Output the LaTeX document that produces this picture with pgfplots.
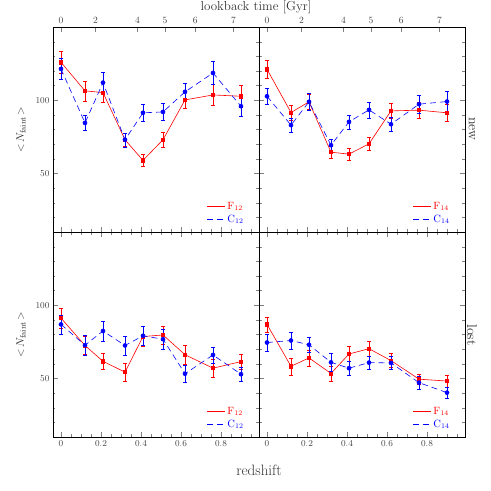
\documentclass[border=0pt]{standalone}
\usepackage{pgfplots}
\usepackage{pgfplotstable}
\pgfplotsset{compat=1.18}

% columns: redshift, F value, F error, C value, C error
\pgfplotstableread{
z    F     eF   C     eC
0    125.9 7.3  121.4 7.0
0.12 106.4 6.8  84.5  5.2
0.21 105.2 6.5  112.0 6.8
0.32 73.0  4.5  73.0  4.8
0.41 58.9  4.0  91.4  6.0
0.51 73.0  5.0  92.0  5.8
0.62 100.2 5.5  105.7 6.0
0.76 103.6 7.0  118.6 8.0
0.90 102.7 7.4  95.9  6.8
}\newleft
\pgfplotstableread{
z    F     eF   C     eC
0    121.1 6.4  102.7 5.5
0.12 91.6  5.0  83.0  4.8
0.21 98.9  5.3  98.9  6.0
0.32 64.5  4.0  69.3  4.0
0.41 63.2  4.0  85.2  4.9
0.51 70.2  4.3  93.4  5.5
0.62 92.7  5.2  83.6  4.8
0.76 93.2  5.5  97.3  6.2
0.90 91.4  5.7  99.1  6.9
}\newright
\pgfplotstableread{
z    F     eF   C     eC
0    91.2  7.0  86.9  6.5
0.12 72.5  6.0  72.7  7.0
0.21 61.7  5.6  82.4  6.9
0.32 54.3  6.4  72.5  6.6
0.41 78.6  6.8  79.1  6.5
0.51 79.7  6.2  76.8  6.5
0.62 66.2  6.3  53.2  5.6
0.76 57.0  5.9  66.0  5.6
0.90 61.5  5.3  52.9  5.0
}\lostleft
\pgfplotstableread{
z    F     eF   C     eC
0    86.9  5.0  74.5  5.6
0.12 58.3  5.8  75.9  5.8
0.21 64.0  5.5  73.0  5.4
0.32 53.4  5.0  61.0  5.9
0.41 66.7  5.2  57.0  5.0
0.51 70.3  5.3  60.8  4.7
0.62 62.2  4.8  60.6  4.5
0.76 49.5  3.6  47.1  4.5
0.90 48.2  4.0  40.3  4.0
}\lostright

\pgfplotsset{
  panel/.style={
    scale only axis, width=206pt, height=205pt,
    anchor=south west,
    xmin=-0.04, xmax=0.99, ymin=10, ymax=150,
    xtick={0,0.2,0.4,0.6,0.8},
    minor xtick={0.05,0.1,0.15,0.25,0.3,0.35,0.45,0.5,0.55,0.65,0.7,0.75,0.85,0.9,0.95},
    ytick={50,100},
    minor ytick={10,20,30,40,60,70,80,90,110,120,130,140},
    tick align=inside,
    major tick length=5pt, minor tick length=2.5pt,
    tick label style={font=\fontsize{9.5}{11}\selectfont, text=black!75},
    legend style={at={(rel axis cs:0.95,0.02)}, anchor=south east,
      draw=none, fill=none, font=\fontsize{10.5}{12}\selectfont},
    legend cell align=left,
    legend image code/.code={\draw[##1] (0pt,0pt) -- (18pt,0pt);},
  },
  lookback/.style={
    scale only axis, width=206pt, height=205pt,
    anchor=south west,
    xmin=-0.04, xmax=0.99, ymin=10, ymax=150,
    axis x line*=top, axis y line=none,
    xtick={0,0.172,0.382,0.52,0.671,0.862},
    xticklabels={0,2,4,5,6,7},
    minor xtick={},
    tick align=inside, major tick length=5pt,
    tick label style={font=\fontsize{9.5}{11}\selectfont, text=black!75},
  },
}

\begin{document}
\begin{tikzpicture}
\useasboundingbox (0,0) rectangle (491pt,491pt);

% top left: new, 12
\begin{axis}[panel, at={(53pt,259pt)}, xtick pos=left, xticklabels={},
  ylabel={$<\!N_{\rm faint}\!>$},
  ylabel style={at={(rel axis cs:-0.155,0.5)}, anchor=center, font=\fontsize{11}{13}\selectfont, text=black!80}]
\addplot[red, line width=0.6pt, mark=square*, mark size=1.6pt, mark options={solid, fill=red},
  error bars/.cd, y dir=both, y explicit, error bar style={red, line width=0.7pt}]
  table[x=z, y=F, y error=eF] {\newleft};
\addlegendentry{\textcolor{red}{F$_{12}$}}
\addplot[blue, line width=0.6pt, dash pattern=on 6pt off 4pt, mark=*, mark size=2pt, mark options={solid, fill=blue},
  error bars/.cd, y dir=both, y explicit, error bar style={blue, solid, line width=0.7pt}]
  table[x=z, y=C, y error=eC] {\newleft};
\addlegendentry{\textcolor{blue}{C$_{12}$}}
\end{axis}
\begin{axis}[lookback, at={(53pt,259pt)}]
\end{axis}

% top right: new, 14
\begin{axis}[panel, at={(259pt,259pt)}, xtick pos=left, xticklabels={}, yticklabels={}]
\addplot[red, line width=0.6pt, mark=square*, mark size=1.6pt, mark options={solid, fill=red},
  error bars/.cd, y dir=both, y explicit, error bar style={red, line width=0.7pt}]
  table[x=z, y=F, y error=eF] {\newright};
\addlegendentry{\textcolor{red}{F$_{14}$}}
\addplot[blue, line width=0.6pt, dash pattern=on 6pt off 4pt, mark=*, mark size=2pt, mark options={solid, fill=blue},
  error bars/.cd, y dir=both, y explicit, error bar style={blue, solid, line width=0.7pt}]
  table[x=z, y=C, y error=eC] {\newright};
\addlegendentry{\textcolor{blue}{C$_{14}$}}
\end{axis}
\begin{axis}[lookback, at={(259pt,259pt)}]
\end{axis}

% bottom left: lost, 12
\begin{axis}[panel, at={(53pt,54pt)},
  ylabel={$<\!N_{\rm faint}\!>$},
  ylabel style={at={(rel axis cs:-0.155,0.5)}, anchor=center, font=\fontsize{11}{13}\selectfont, text=black!80}]
\addplot[red, line width=0.6pt, mark=square*, mark size=1.6pt, mark options={solid, fill=red},
  error bars/.cd, y dir=both, y explicit, error bar style={red, line width=0.7pt}]
  table[x=z, y=F, y error=eF] {\lostleft};
\addlegendentry{\textcolor{red}{F$_{12}$}}
\addplot[blue, line width=0.6pt, dash pattern=on 6pt off 4pt, mark=*, mark size=2pt, mark options={solid, fill=blue},
  error bars/.cd, y dir=both, y explicit, error bar style={blue, solid, line width=0.7pt}]
  table[x=z, y=C, y error=eC] {\lostleft};
\addlegendentry{\textcolor{blue}{C$_{12}$}}
\end{axis}

% bottom right: lost, 14
\begin{axis}[panel, at={(259pt,54pt)}, yticklabels={}]
\addplot[red, line width=0.6pt, mark=square*, mark size=1.6pt, mark options={solid, fill=red},
  error bars/.cd, y dir=both, y explicit, error bar style={red, line width=0.7pt}]
  table[x=z, y=F, y error=eF] {\lostright};
\addlegendentry{\textcolor{red}{F$_{14}$}}
\addplot[blue, line width=0.6pt, dash pattern=on 6pt off 4pt, mark=*, mark size=2pt, mark options={solid, fill=blue},
  error bars/.cd, y dir=both, y explicit, error bar style={blue, solid, line width=0.7pt}]
  table[x=z, y=C, y error=eC] {\lostright};
\addlegendentry{\textcolor{blue}{C$_{14}$}}
\end{axis}

\node[font=\fontsize{13}{15}\selectfont, text=black!80] at (256pt,484pt) {lookback time [Gyr]};
\node[font=\fontsize{15}{17}\selectfont, text=black!80] at (259pt,21pt) {redshift};
\node[rotate=-90, font=\fontsize{14}{16}\selectfont, text=black!80] at (472pt,362pt) {new};
\node[rotate=-90, font=\fontsize{14}{16}\selectfont, text=black!80] at (472pt,156pt) {lost};
\end{tikzpicture}
\end{document}
